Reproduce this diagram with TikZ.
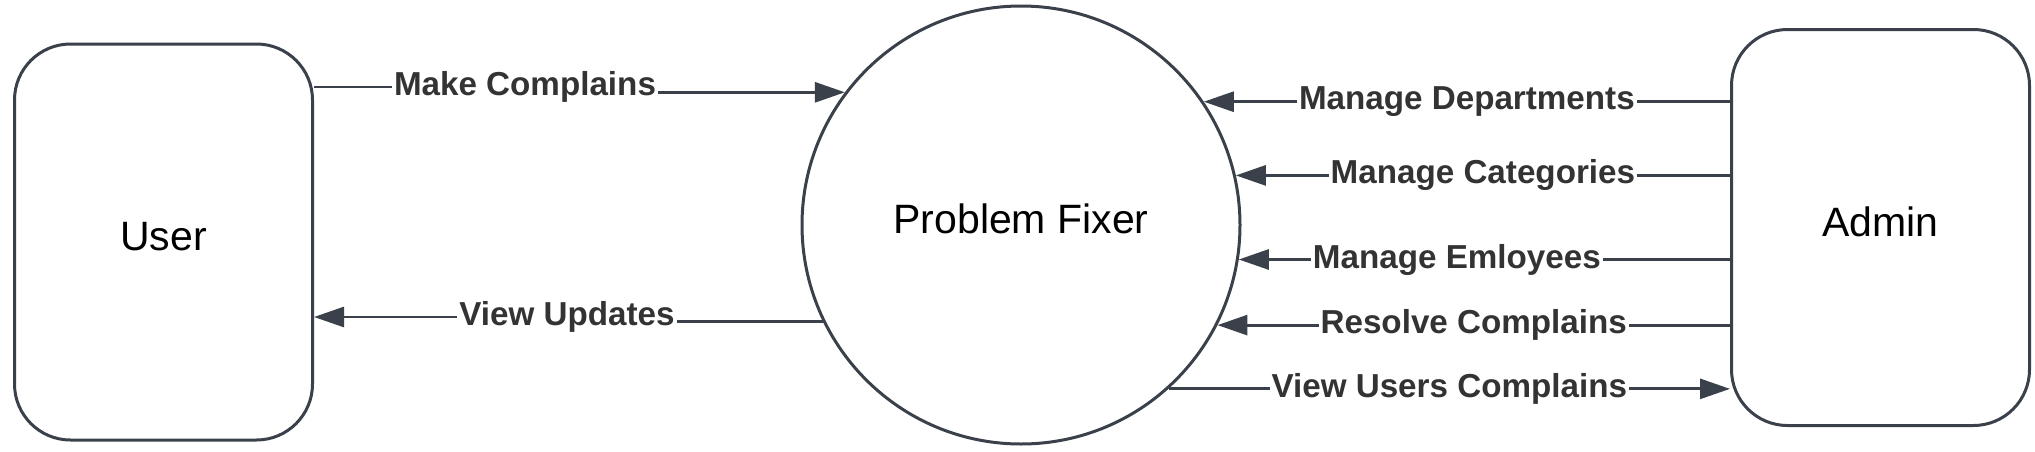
\documentclass[tikz,border=0pt]{standalone}
\usepackage{fontspec}
\setmainfont{Liberation Sans}
\usetikzlibrary{arrows.meta}
\usepackage{xcolor}
\definecolor{lineclr}{HTML}{3A414A}
\definecolor{txtclr}{HTML}{333333}

\begin{document}
\begin{tikzpicture}
    \tikzset{
        x={(0.5pt,0pt)},y={(0pt,-0.5pt)},
        entity/.style={draw=lineclr,line width=1.5pt,rounded corners=28pt,
            minimum width=149pt,minimum height=198pt,text depth=6pt,
            font=\fontsize{20.5}{24}\selectfont},
        process/.style={draw=lineclr,circle,line width=1.5pt,minimum size=219pt,
            text depth=6pt,font=\fontsize{20.5}{24}\selectfont},
        flow/.style={draw=lineclr,line width=1.4pt,
            -{Triangle[length=15pt,width=10pt]}},
        lbl/.style={fill=white,inner sep=1pt,text=txtclr,
            font=\bfseries\fontsize{16.6}{19}\selectfont}
    }
    \useasboundingbox (0,0) rectangle (2035,451);
    % entities and process
    \node[entity] (user) at (163.5,242) {User};
    \node[entity] (admin) at (1880.5,227.5) {Admin};
    \node[process] (fixer) at (1021,225) {Problem Fixer};
    % jog points under the labels
    \coordinate (mc) at (525,87);
    \coordinate (vu) at (567,317);
    % user side
    \draw[flow] (mc -| user.east) -- (mc) node[lbl] {Make Complains} |- (fixer.143);
    \draw[flow] (fixer.206) -- (fixer.206 -| vu) -- (vu) node[lbl] {View Updates}
        -- (vu -| user.east);
    % admin side
    \draw[flow] (fixer.34 -| admin.west) -- node[lbl] {Manage Departments} (fixer.34);
    \draw[flow] (fixer.13 -| admin.west) -- node[lbl] {Manage Categories} (fixer.13);
    \draw[flow] (fixer.351 -| admin.west) -- node[lbl,pos=0.556] {Manage Emloyees} (fixer.351);
    \draw[flow] (fixer.333 -| admin.west) -- node[lbl] {Resolve Complains} (fixer.333);
    \draw[flow] (fixer.312) -- node[lbl] {View Users Complains} (fixer.312 -| admin.west);
\end{tikzpicture}
\end{document}
